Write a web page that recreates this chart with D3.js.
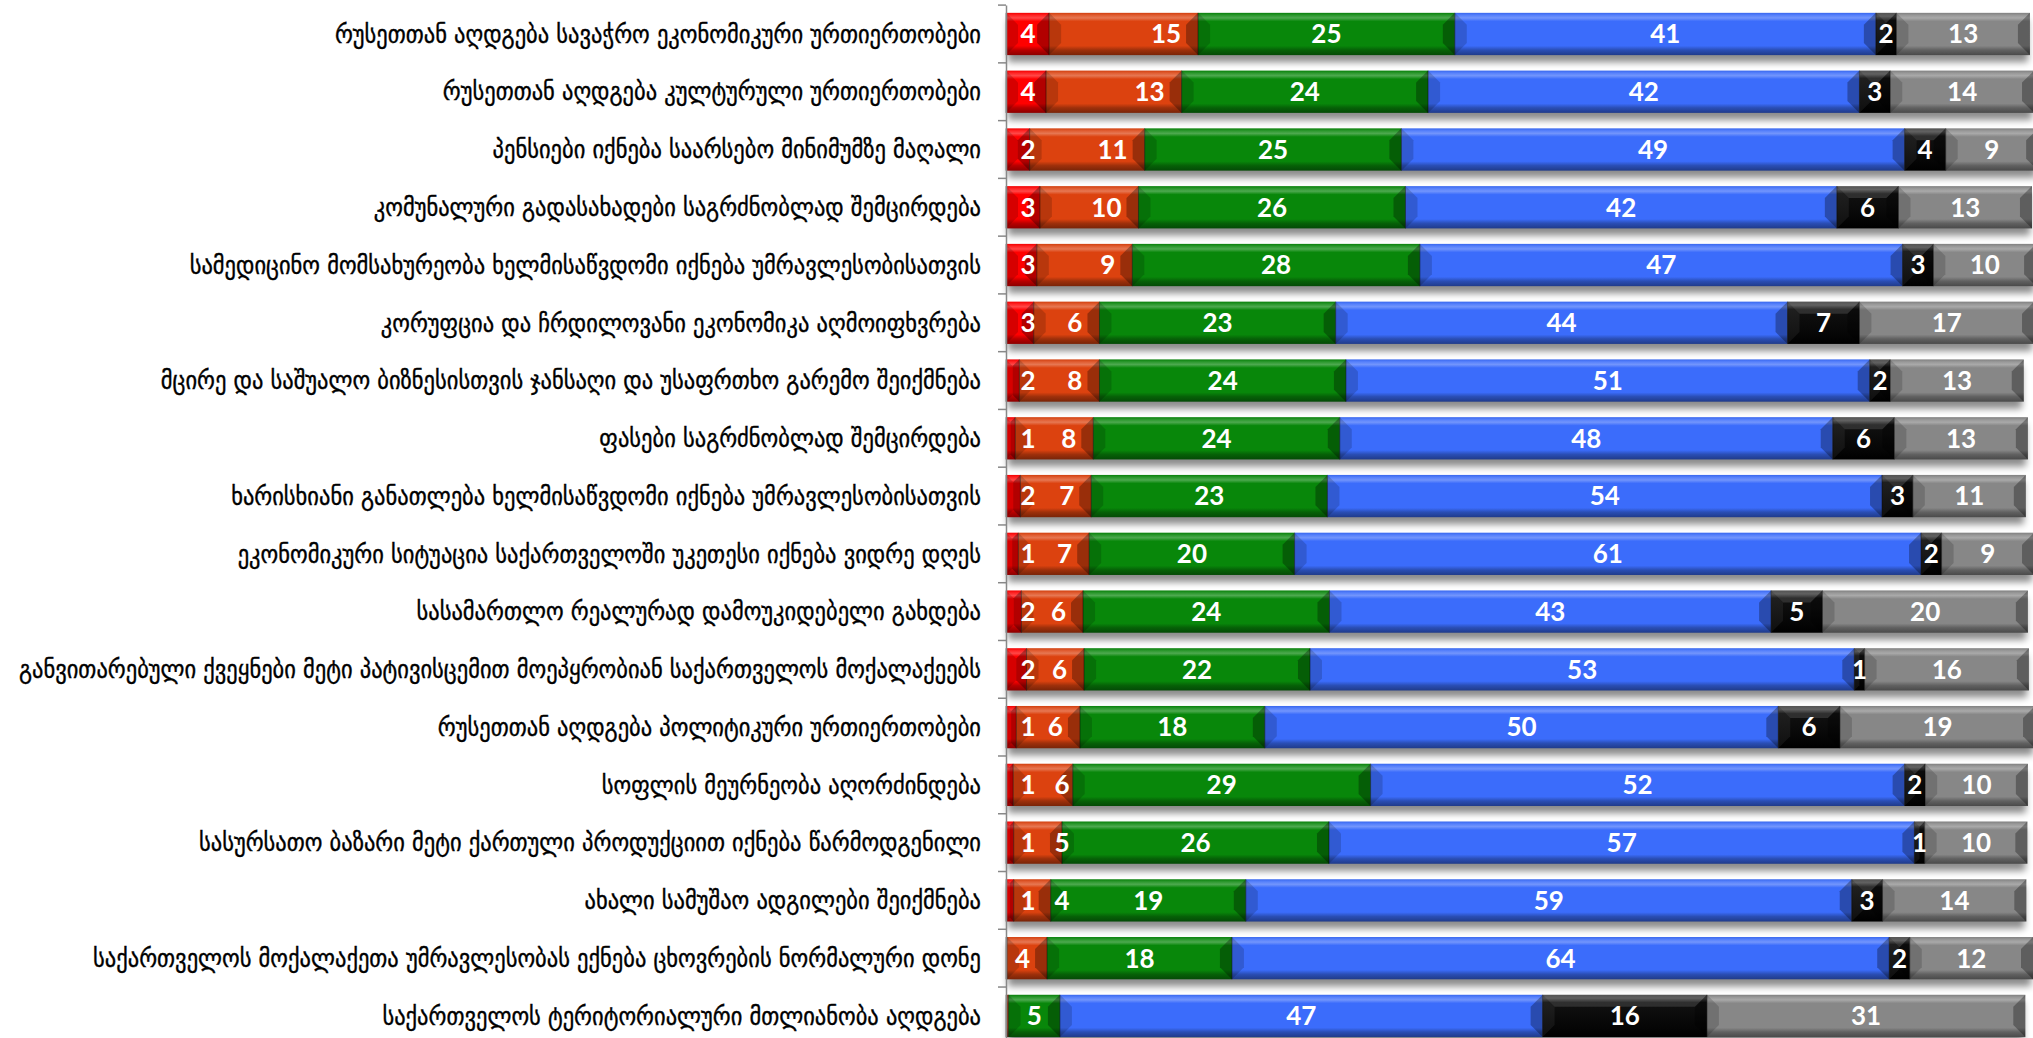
<!DOCTYPE html>
<html>
<head>
<meta charset="utf-8">
<script src="https://cdn.jsdelivr.net/npm/d3@7"></script>
<style>
  html, body { margin: 0; padding: 0; background: #ffffff; overflow: hidden; }
  svg { display: block; }
</style>
</head>
<body>
<div id="chart"></div>
<script>
// ---------------- DATA ----------------
const categories = [
  "რუსეთთან აღდგება სავაჭრო ეკონომიკური ურთიერთობები",
  "რუსეთთან აღდგება კულტურული ურთიერთობები",
  "პენსიები იქნება საარსებო მინიმუმზე მაღალი",
  "კომუნალური გადასახადები საგრძნობლად შემცირდება",
  "სამედიცინო მომსახურეობა ხელმისაწვდომი იქნება უმრავლესობისათვის",
  "კორუფცია და ჩრდილოვანი ეკონომიკა აღმოიფხვრება",
  "მცირე და საშუალო ბიზნესისთვის ჯანსაღი და უსაფრთხო გარემო შეიქმნება",
  "ფასები საგრძნობლად შემცირდება",
  "ხარისხიანი განათლება ხელმისაწვდომი იქნება უმრავლესობისათვის",
  "ეკონომიკური სიტუაცია საქართველოში უკეთესი იქნება ვიდრე დღეს",
  "სასამართლო რეალურად დამოუკიდებელი გახდება",
  "განვითარებული ქვეყნები მეტი პატივისცემით მოეპყრობიან საქართველოს მოქალაქეებს",
  "რუსეთთან აღდგება პოლიტიკური ურთიერთობები",
  "სოფლის მეურნეობა აღორძინდება",
  "სასურსათო ბაზარი მეტი ქართული პროდუქციით იქნება წარმოდგენილი",
  "ახალი სამუშაო ადგილები შეიქმნება",
  "საქართველოს მოქალაქეთა უმრავლესობას ექნება ცხოვრების ნორმალური დონე",
  "საქართველოს ტერიტორიალური მთლიანობა აღდგება"
];

// bar widths (percent)
const redValues    = [4.2, 3.9, 2.3, 3.3, 3.0, 2.7, 1.3, 0.9, 1.4, 1.2, 1.5, 2.0, 1.0, 0.7, 0.75, 0.75, 0.1, 0.1];
const orangeValues = [14.5, 13.2, 11.2, 9.6, 9.3, 6.4, 7.8, 7.6, 6.9, 6.9, 6.0, 5.6, 6.2, 5.8, 4.7, 3.6, 3.9, 0.15];
const greenValues  = [25, 24, 25, 26, 28, 23, 24, 24, 23, 20, 24, 22, 18, 29, 26, 19, 18, 5];
const blueValues   = [41, 42, 49, 42, 47, 44, 51, 48, 54, 61, 43, 53, 50, 52, 57, 59, 64, 47];
const blackValues  = [2, 3, 4, 6, 3, 7, 2, 6, 3, 2, 5, 1, 6, 2, 1, 3, 2, 16];
const grayValues   = [13, 14, 9, 13, 10, 17, 13, 13, 11, 9, 20, 16, 19, 10, 10, 14, 12, 31];

// printed labels of the two small series
const redLabels    = ["4","4","2","3","3","3","2","1","2","1","2","2","1","1","1","1","",""];
const orangeLabels = ["15","13","11","10","9","6","8","8","7","7","6","6","6","6","5","4","4",""];

const seriesKeys   = ["red", "orange", "green", "blue", "black", "gray"];
const seriesColors = ["#ff0000", "#dc420f", "#08870a", "#3b6cfb", "#050505", "#878787"];

// ---------------- LAYOUT ----------------
const W = 2033, H = 1038;
const svg = d3.select("#chart").append("svg").attr("width", W).attr("height", H);

const table = categories.map((c, i) => ({
  cat: c,
  red: redValues[i], orange: orangeValues[i], green: greenValues[i],
  blue: blueValues[i], black: blackValues[i], gray: grayValues[i],
  redLabel: redLabels[i], orangeLabel: orangeLabels[i]
}));

const x = d3.scaleLinear().domain([0, 100]).range([1006, 2033]);
const y = d3.scaleBand().domain(categories).range([5.1, 1044.8]).paddingInner(0.268).paddingOuter(0.134);

const stacked = d3.stack().keys(seriesKeys)(table);
const color = d3.scaleOrdinal().domain(seriesKeys).range(seriesColors);

// defs: gradients + shadow
const defs = svg.append("defs");
seriesKeys.forEach(k => {
  const base = d3.color(color(k));
  const light = d3.interpolateRgb(base, "#ffffff");
  const dark = d3.interpolateRgb(base, "#000000");
  const g = defs.append("linearGradient").attr("id", "grad-" + k)
    .attr("x1", 0).attr("y1", 0).attr("x2", 0).attr("y2", 1);
  const stops = k === "black"
    ? [[0, "#3a3a3a"], [0.08, "#4a4a4a"], [0.18, "#111"], [0.8, "#050505"], [1, "#000"]]
    : [[0, dark(0.05)], [0.06, light(0.15)], [0.12, light(0.28)], [0.2, base.formatHex()],
       [0.78, base.formatHex()], [0.88, dark(0.28)], [1, dark(0.45)]];
  stops.forEach(s => g.append("stop").attr("offset", s[0]).attr("stop-color", s[1]));
});
const f = defs.append("filter").attr("id", "shadow")
  .attr("x", "-5%").attr("y", "-50%").attr("width", "110%").attr("height", "220%");
f.append("feGaussianBlur").attr("stdDeviation", 3.5);

// category labels
svg.append("g").selectAll("text").data(categories).join("text")
  .attr("x", 981)
  .attr("y", d => y(d) + y.bandwidth() / 2)
  .attr("dy", "0.35em")
  .attr("text-anchor", "end")
  .attr("font-family", "'DejaVu Sans Condensed', 'DejaVu Sans', sans-serif")
  .attr("font-size", 25)
  .attr("fill", "#000")
  .attr("stroke", "#000")
  .attr("stroke-width", 0.35)
  .text(d => d);

// shadows under rows
svg.append("g").selectAll("rect").data(table).join("rect")
  .attr("x", x(0) + 2)
  .attr("y", d => y(d.cat) + 7)
  .attr("width", d => x(d3.sum(seriesKeys, k => d[k])) - x(0) - 4)
  .attr("height", y.bandwidth())
  .attr("fill", "#000").attr("opacity", 0.45)
  .attr("filter", "url(#shadow)");

// bars
const bev = 12;
const layers = svg.append("g").selectAll("g").data(stacked).join("g");
layers.each(function(layer) {
  const k = layer.key;
  const g = d3.select(this);
  const segs = g.selectAll("g.seg").data(layer.filter(d => d[1] - d[0] > 0)).join("g").attr("class", "seg");
  segs.append("rect")
    .attr("x", d => x(d[0]))
    .attr("y", d => y(d.data.cat))
    .attr("width", d => x(d[1]) - x(d[0]))
    .attr("height", y.bandwidth())
    .attr("fill", `url(#grad-${k})`);
  // end bevels
  segs.each(function(d) {
    const x0 = x(d[0]), x1 = x(d[1]), y0 = y(d.data.cat), y1 = y0 + y.bandwidth();
    const b = Math.min(bev, (x1 - x0) / 2);
    const s = d3.select(this);
    s.append("polygon")
      .attr("points", [[x0, y0], [x0 + b, y0 + b], [x0 + b, y1 - b], [x0, y1]].join(" "))
      .attr("fill", "#000").attr("opacity", k === "black" ? 0 : 0.16);
    s.append("polygon")
      .attr("points", [[x1, y0], [x1 - b, y0 + b], [x1 - b, y1 - b], [x1, y1]].join(" "))
      .attr("fill", "#000").attr("opacity", 0.3);
    if (k === "black") {
      s.append("polygon")
        .attr("points", [[x0, y0], [x1, y0], [x1 - b, y0 + b], [x0 + b, y0 + b]].join(" "))
        .attr("fill", "#fff").attr("opacity", 0.13);
      s.append("polygon")
        .attr("points", [[x0, y0], [x0 + b, y0 + b], [x0 + b, y1 - b], [x0, y1]].join(" "))
        .attr("fill", "#fff").attr("opacity", 0.06);
    }
    s.append("line")
      .attr("x1", x0).attr("x2", x0).attr("y1", y0).attr("y2", y1)
      .attr("stroke", "#000").attr("stroke-opacity", 0.45).attr("stroke-width", 1);
  });
});

// axis (category axis, left of bars)
const axis = d3.axisLeft(y).tickSize(0).tickFormat("");
const axG = svg.append("g").attr("transform", `translate(${x(0)},0)`).call(axis);
axG.select(".domain").attr("stroke", "#888").attr("stroke-width", 1.5);
// band boundary ticks
svg.append("g").selectAll("line").data(categories).join("line")
  .attr("x1", x(0) - 8).attr("x2", x(0))
  .attr("y1", d => y(d) - y.step() * y.paddingInner() / 2)
  .attr("y2", d => y(d) - y.step() * y.paddingInner() / 2)
  .attr("stroke", "#888").attr("stroke-width", 1.5);

// value labels
const lbl = svg.append("g")
  .attr("font-family", "Lato, 'Open Sans', sans-serif")
  .attr("font-weight", "bold")
  .attr("font-size", 26)
  .attr("fill", "#fff");

const labelX0 = x(0) + 22;
table.forEach((d, i) => {
  const yc = y(d.cat) + y.bandwidth() / 2;
  const st = stacked.map(s => s[i]);
  if (d.redLabel !== "") {
    lbl.append("text").attr("x", labelX0).attr("y", yc).attr("dy", "0.36em")
      .attr("text-anchor", "middle").text(d.redLabel);
  }
  if (d.orangeLabel !== "") {
    const end = x(st[1][1]);
    const t = lbl.append("text").attr("x", end - 17).attr("y", yc).attr("dy", "0.36em")
      .attr("text-anchor", "end").text(d.orangeLabel);
    const w = t.node().getComputedTextLength();
    if (d.redLabel !== "" && end - 17 - w < 1045) {
      t.attr("x", labelX0 + 34).attr("text-anchor", "middle");
    }
  }
  [2, 3, 4, 5].forEach(j => {
    const s = st[j];
    lbl.append("text")
      .attr("x", (x(s[0]) + x(s[1])) / 2).attr("y", yc).attr("dy", "0.36em")
      .attr("text-anchor", "middle")
      .text(d[seriesKeys[j]]);
  });
});
</script>
</body>
</html>
